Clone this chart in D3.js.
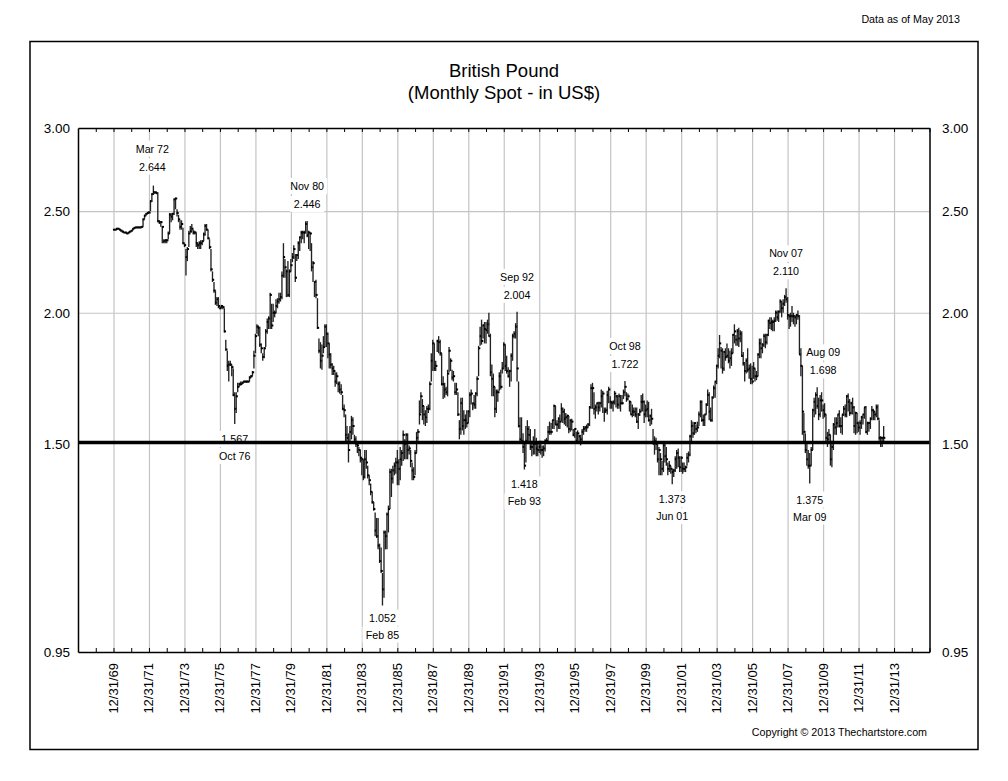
<!doctype html>
<head>
  <meta charset="utf-8" />
  <style>
    html, body { margin: 0; padding: 0; background: #fff; }
    svg { display: block; }
    text { font-family: "Liberation Sans", Arial, sans-serif; fill: #000; }
    .axis .domain { stroke: #000; stroke-width: 1.5; }
    .grid line { stroke: #c4c4c4; stroke-width: 1.2; }
    .grid .domain { display: none; }
    .title { font-size: 18.5px; text-anchor: middle; }
    .note { font-size: 10.7px; }
    .price-label { font-size: 13.5px; }
    .date-label { font-size: 13px; }
  </style>
</head>
<body>
<div class="chart-target"></div>
<script src="https://cdnjs.cloudflare.com/ajax/libs/d3/7.8.5/d3.min.js"></script>
<script>

  // monthly bars, first one is Dec 1969, one row per year
  var highs = [
    2.402,
    2.402,2.407,2.408,2.405,2.400,2.393,2.388,2.388,2.385,2.388,2.393,2.398,
    2.408,2.412,2.415,2.415,2.415,2.415,2.418,2.460,2.480,2.490,2.495,2.500,
    2.56,2.60,2.644,2.61,2.61,2.605,2.45,2.445,2.42,2.35,2.35,2.35,
    2.39,2.49,2.49,2.49,2.57,2.575,2.51,2.48,2.45,2.45,2.41,2.33,
    2.30,2.31,2.395,2.42,2.43,2.40,2.395,2.385,2.33,2.34,2.345,2.345,
    2.385,2.43,2.43,2.40,2.35,2.30,2.19,2.14,2.10,2.07,2.07,2.03,
    2.035,2.03,2.02,1.885,1.84,1.80,1.80,1.785,1.77,1.68,1.68,1.715,
    1.715,1.72,1.72,1.72,1.72,1.72,1.72,1.74,1.745,1.76,1.84,1.91,
    1.95,1.945,1.94,1.87,1.83,1.855,1.93,1.975,1.985,2.09,2.04,2.04,
    2.01,2.06,2.065,2.09,2.09,2.19,2.33,2.25,2.20,2.24,2.20,2.25,
    2.28,2.32,2.275,2.275,2.34,2.365,2.395,2.395,2.395,2.445,2.446,2.395,
    2.385,2.33,2.24,2.14,2.15,2.065,1.89,1.875,1.865,1.90,1.95,1.95,
    1.915,1.87,1.83,1.79,1.78,1.755,1.755,1.72,1.72,1.71,1.67,1.635,
    1.60,1.56,1.535,1.56,1.595,1.59,1.53,1.525,1.51,1.49,1.48,1.455,
    1.45,1.48,1.48,1.43,1.40,1.375,1.35,1.32,1.29,1.275,1.275,1.205,
    1.195,1.13,1.24,1.24,1.29,1.31,1.42,1.42,1.43,1.44,1.455,1.48,
    1.45,1.49,1.48,1.545,1.515,1.535,1.535,1.495,1.48,1.44,1.425,1.48,
    1.54,1.55,1.65,1.68,1.655,1.63,1.615,1.63,1.635,1.72,1.83,1.885,
    1.87,1.80,1.885,1.90,1.885,1.83,1.74,1.715,1.70,1.765,1.855,1.81,
    1.765,1.76,1.715,1.715,1.68,1.58,1.66,1.66,1.615,1.60,1.615,1.615,
    1.68,1.69,1.64,1.67,1.68,1.74,1.86,1.94,1.97,1.95,1.96,1.96,
    1.97,2.00,1.91,1.785,1.75,1.70,1.69,1.69,1.755,1.765,1.795,1.875,
    1.865,1.82,1.775,1.765,1.83,1.91,1.92,1.955,2.004,1.72,1.59,1.59,
    1.535,1.50,1.56,1.58,1.56,1.55,1.51,1.525,1.55,1.52,1.50,1.51,
    1.51,1.495,1.495,1.515,1.52,1.56,1.575,1.57,1.58,1.635,1.63,1.58,
    1.59,1.60,1.64,1.625,1.62,1.605,1.60,1.595,1.58,1.585,1.55,1.55,
    1.54,1.545,1.53,1.53,1.55,1.56,1.56,1.565,1.57,1.63,1.71,1.715,
    1.68,1.635,1.64,1.645,1.645,1.69,1.685,1.625,1.625,1.685,1.70,1.665,
    1.645,1.65,1.685,1.67,1.67,1.675,1.67,1.67,1.69,1.722,1.68,1.675,
    1.65,1.645,1.635,1.625,1.625,1.625,1.605,1.62,1.67,1.675,1.65,1.635,
    1.65,1.645,1.60,1.62,1.55,1.525,1.52,1.50,1.49,1.47,1.445,1.50,
    1.50,1.49,1.44,1.445,1.43,1.42,1.42,1.46,1.48,1.485,1.46,1.46,
    1.44,1.44,1.43,1.47,1.475,1.53,1.58,1.575,1.57,1.565,1.575,1.61,
    1.65,1.65,1.60,1.60,1.64,1.69,1.68,1.625,1.665,1.705,1.72,1.785,
    1.85,1.905,1.855,1.85,1.84,1.85,1.87,1.85,1.84,1.85,1.91,1.95,
    1.905,1.93,1.935,1.925,1.92,1.835,1.795,1.81,1.85,1.785,1.79,1.78,
    1.795,1.77,1.76,1.83,1.89,1.89,1.87,1.91,1.91,1.91,1.97,1.98,
    1.98,1.97,1.98,2.01,2.01,2.01,2.06,2.05,2.06,2.08,2.11,2.07,
    1.995,2.00,2.03,2.00,1.99,1.995,2.01,1.99,1.85,1.78,1.605,1.535,
    1.50,1.48,1.47,1.49,1.62,1.66,1.68,1.698,1.66,1.67,1.68,1.635,
    1.64,1.60,1.54,1.55,1.53,1.51,1.57,1.59,1.59,1.60,1.615,1.59,
    1.60,1.63,1.635,1.67,1.675,1.655,1.645,1.66,1.63,1.61,1.605,1.575,
    1.58,1.595,1.60,1.625,1.63,1.575,1.575,1.59,1.63,1.62,1.61,1.635,
    1.635,1.58,1.525,1.52,1.56
  ]

  var lows = [
    2.398,
    2.398,2.400,2.402,2.398,2.390,2.385,2.382,2.382,2.378,2.380,2.385,2.390,
    2.395,2.405,2.410,2.408,2.410,2.408,2.410,2.415,2.455,2.475,2.485,2.488,
    2.50,2.55,2.59,2.595,2.60,2.44,2.43,2.415,2.33,2.33,2.33,2.33,
    2.35,2.38,2.44,2.45,2.48,2.51,2.47,2.44,2.40,2.40,2.325,2.31,
    2.17,2.24,2.31,2.385,2.39,2.375,2.375,2.31,2.30,2.30,2.30,2.32,
    2.34,2.37,2.395,2.35,2.30,2.19,2.14,2.09,2.035,2.03,2.02,2.015,
    2.02,2.015,1.915,1.84,1.76,1.72,1.78,1.74,1.665,1.567,1.605,1.68,
    1.70,1.705,1.71,1.715,1.715,1.715,1.715,1.72,1.735,1.74,1.77,1.83,
    1.91,1.90,1.855,1.83,1.80,1.81,1.855,1.91,1.93,1.93,1.93,1.96,
    1.98,2.00,2.02,2.04,2.05,2.06,2.16,2.16,2.07,2.07,2.07,2.19,
    2.235,2.25,2.14,2.24,2.25,2.29,2.33,2.35,2.33,2.38,2.36,2.30,
    2.29,2.19,2.14,2.07,2.065,1.93,1.83,1.77,1.765,1.83,1.855,1.855,
    1.81,1.77,1.77,1.745,1.745,1.70,1.71,1.68,1.675,1.67,1.615,1.59,
    1.505,1.50,1.44,1.50,1.515,1.53,1.50,1.49,1.47,1.46,1.44,1.40,
    1.385,1.39,1.42,1.39,1.37,1.34,1.315,1.295,1.225,1.22,1.19,1.155,
    1.13,1.052,1.07,1.19,1.19,1.235,1.30,1.335,1.375,1.40,1.405,1.37,
    1.37,1.385,1.43,1.445,1.45,1.45,1.45,1.465,1.425,1.385,1.385,1.40,
    1.47,1.51,1.565,1.605,1.58,1.565,1.56,1.57,1.605,1.615,1.72,1.76,
    1.76,1.76,1.835,1.83,1.82,1.705,1.655,1.66,1.67,1.665,1.755,1.76,
    1.725,1.72,1.67,1.67,1.595,1.515,1.53,1.545,1.53,1.55,1.555,1.57,
    1.59,1.635,1.615,1.62,1.62,1.665,1.74,1.86,1.865,1.89,1.87,1.87,
    1.91,1.90,1.74,1.665,1.665,1.59,1.605,1.645,1.685,1.69,1.75,1.77,
    1.76,1.75,1.735,1.70,1.72,1.80,1.89,1.89,1.72,1.555,1.50,1.50,
    1.47,1.418,1.44,1.50,1.505,1.48,1.46,1.465,1.465,1.46,1.46,1.47,
    1.465,1.455,1.46,1.475,1.505,1.51,1.53,1.53,1.55,1.55,1.565,1.54,
    1.55,1.55,1.575,1.57,1.565,1.56,1.555,1.535,1.54,1.545,1.525,1.52,
    1.50,1.50,1.505,1.495,1.505,1.53,1.54,1.54,1.555,1.56,1.62,1.62,
    1.60,1.585,1.61,1.60,1.61,1.625,1.605,1.575,1.605,1.60,1.64,1.62,
    1.62,1.61,1.635,1.625,1.62,1.62,1.61,1.635,1.655,1.665,1.645,1.65,
    1.61,1.60,1.59,1.595,1.59,1.57,1.55,1.595,1.61,1.61,1.57,1.59,
    1.59,1.575,1.56,1.565,1.50,1.465,1.48,1.44,1.40,1.40,1.40,1.41,
    1.44,1.43,1.40,1.41,1.405,1.373,1.395,1.41,1.42,1.425,1.41,1.41,
    1.405,1.41,1.41,1.43,1.44,1.46,1.50,1.52,1.53,1.535,1.54,1.56,
    1.59,1.575,1.56,1.56,1.60,1.63,1.58,1.575,1.575,1.66,1.66,1.71,
    1.77,1.81,1.77,1.75,1.76,1.80,1.81,1.79,1.77,1.78,1.83,1.87,
    1.86,1.86,1.855,1.875,1.815,1.78,1.72,1.75,1.755,1.73,1.71,1.71,
    1.73,1.72,1.725,1.74,1.81,1.81,1.83,1.855,1.85,1.865,1.90,1.93,
    1.925,1.92,1.92,1.96,1.965,1.96,2.00,1.98,2.00,2.03,2.045,1.97,
    1.93,1.94,1.96,1.95,1.94,1.95,1.97,1.825,1.74,1.53,1.50,1.47,
    1.43,1.42,1.375,1.43,1.48,1.59,1.60,1.62,1.58,1.59,1.61,1.585,
    1.59,1.50,1.49,1.51,1.43,1.425,1.48,1.53,1.53,1.555,1.555,1.535,
    1.53,1.595,1.59,1.59,1.61,1.595,1.60,1.60,1.535,1.53,1.535,1.54,
    1.53,1.55,1.565,1.585,1.535,1.53,1.54,1.55,1.58,1.58,1.58,1.59,
    1.58,1.51,1.49,1.49,1.50
  ]

  var closes = [
    2.400,
    2.400,2.405,2.405,2.400,2.395,2.390,2.385,2.385,2.380,2.385,2.390,2.395,
    2.405,2.410,2.412,2.412,2.412,2.412,2.415,2.455,2.475,2.485,2.490,2.492,
    2.555,2.595,2.605,2.605,2.60,2.445,2.44,2.44,2.415,2.34,2.345,2.345,
    2.38,2.48,2.47,2.485,2.565,2.57,2.49,2.455,2.415,2.43,2.33,2.32,
    2.26,2.30,2.38,2.39,2.405,2.385,2.385,2.33,2.32,2.33,2.33,2.34,
    2.375,2.42,2.40,2.355,2.31,2.20,2.15,2.10,2.045,2.06,2.03,2.02,
    2.03,2.025,1.92,1.845,1.78,1.785,1.785,1.775,1.67,1.62,1.665,1.70,
    1.71,1.71,1.715,1.72,1.72,1.72,1.72,1.735,1.74,1.755,1.82,1.90,
    1.94,1.935,1.865,1.85,1.815,1.85,1.92,1.96,1.975,2.08,1.945,2.00,
    2.00,2.03,2.05,2.06,2.07,2.17,2.26,2.21,2.19,2.08,2.19,2.22,
    2.26,2.30,2.16,2.27,2.33,2.36,2.385,2.385,2.385,2.43,2.37,2.385,
    2.38,2.21,2.23,2.14,2.08,1.935,1.84,1.80,1.82,1.855,1.94,1.91,
    1.87,1.825,1.785,1.77,1.76,1.72,1.74,1.71,1.69,1.68,1.62,1.615,
    1.53,1.52,1.48,1.54,1.58,1.56,1.515,1.50,1.495,1.48,1.455,1.45,
    1.395,1.45,1.44,1.40,1.385,1.35,1.32,1.30,1.24,1.225,1.20,1.16,
    1.135,1.09,1.235,1.225,1.285,1.30,1.41,1.39,1.415,1.43,1.44,1.44,
    1.42,1.45,1.47,1.53,1.50,1.53,1.48,1.485,1.445,1.415,1.395,1.47,
    1.52,1.54,1.60,1.665,1.63,1.60,1.59,1.62,1.62,1.71,1.80,1.87,
    1.77,1.78,1.88,1.875,1.83,1.71,1.71,1.69,1.68,1.75,1.84,1.80,
    1.735,1.74,1.68,1.69,1.60,1.55,1.64,1.56,1.58,1.58,1.57,1.61,
    1.67,1.675,1.64,1.635,1.675,1.73,1.85,1.90,1.88,1.945,1.93,1.925,
    1.95,1.90,1.755,1.73,1.70,1.62,1.68,1.68,1.74,1.70,1.77,1.865,
    1.78,1.76,1.74,1.76,1.82,1.90,1.91,1.94,1.77,1.56,1.515,1.51,
    1.49,1.43,1.51,1.55,1.53,1.49,1.49,1.50,1.50,1.485,1.48,1.49,
    1.48,1.48,1.485,1.51,1.51,1.54,1.54,1.54,1.58,1.63,1.565,1.565,
    1.585,1.575,1.62,1.61,1.585,1.59,1.595,1.55,1.58,1.575,1.53,1.55,
    1.51,1.535,1.525,1.515,1.54,1.55,1.555,1.555,1.565,1.625,1.695,1.695,
    1.62,1.625,1.64,1.625,1.64,1.665,1.675,1.61,1.615,1.67,1.69,1.645,
    1.64,1.645,1.675,1.665,1.635,1.665,1.64,1.64,1.68,1.70,1.655,1.665,
    1.645,1.60,1.61,1.61,1.60,1.575,1.60,1.61,1.645,1.645,1.60,1.615,
    1.62,1.58,1.595,1.585,1.50,1.51,1.50,1.45,1.48,1.45,1.42,1.495,
    1.46,1.45,1.42,1.43,1.42,1.41,1.415,1.45,1.47,1.455,1.425,1.455,
    1.42,1.42,1.425,1.455,1.465,1.525,1.56,1.535,1.57,1.55,1.555,1.60,
    1.645,1.58,1.58,1.60,1.635,1.67,1.61,1.58,1.66,1.695,1.72,1.78,
    1.82,1.87,1.84,1.77,1.835,1.815,1.82,1.80,1.81,1.83,1.905,1.92,
    1.885,1.92,1.89,1.91,1.82,1.79,1.76,1.80,1.765,1.77,1.73,1.72,
    1.77,1.74,1.74,1.825,1.87,1.85,1.865,1.90,1.875,1.905,1.965,1.955,
    1.96,1.96,1.965,2.00,1.98,2.005,2.05,2.02,2.04,2.07,2.06,1.99,
    1.985,1.985,1.985,1.985,1.98,1.99,1.985,1.825,1.78,1.61,1.54,1.48,
    1.45,1.43,1.43,1.48,1.615,1.645,1.67,1.63,1.60,1.65,1.65,1.615,
    1.60,1.52,1.515,1.53,1.45,1.49,1.565,1.555,1.57,1.60,1.56,1.56,
    1.60,1.62,1.60,1.665,1.645,1.605,1.64,1.625,1.56,1.605,1.57,1.555,
    1.57,1.59,1.60,1.625,1.54,1.57,1.57,1.585,1.615,1.61,1.60,1.625,
    1.585,1.52,1.52,1.52,1.52
  ]

  var priceTicks = [3, 2.5, 2, 1.5, 0.95]
    , gridPrices = [2.5, 2]
    , heavyPrice = 1.5

  var peakLabels = [
    { date: [1972, 3], value: 2.644, label: 'Mar 72' }
  , { date: [1980, 11], value: 2.446, label: 'Nov 80' }
  , { date: [1992, 9], value: 2.004, label: 'Sep 92' }
  , { date: [1998, 10], value: 1.722, label: 'Oct 98' }
  , { date: [2007, 11], value: 2.110, label: 'Nov 07' }
  , { date: [2009, 8], value: 1.698, label: 'Aug 09' }
  ]

  var troughLabels = [
    { date: [1976, 10], value: 1.567, label: 'Oct 76' }
  , { date: [1985, 2], value: 1.052, label: 'Feb 85' }
  , { date: [1993, 2], value: 1.418, label: 'Feb 93' }
  , { date: [2001, 6], value: 1.373, label: 'Jun 01' }
  , { date: [2009, 3], value: 1.375, label: 'Mar 09' }
  ]

  // hand placed labels that sit off the usual spot
  var labelNudge = {
    'Mar 72': [-1, -2]
  , 'Aug 09': [6, 0]
  , 'Feb 85': [0, -3]
  , 'Mar 09': [0, 1]
  }

  var width = 1008
    , height = 781
    , plot = { left: 78, right: 929.5, top: 128, bottom: 652 }

  var svg = d3.select('.chart-target')
    .append('svg')
      .attr('width', width)
      .attr('height', height)

  var x = d3.scaleTime()
        .domain([yearEnd(1967), yearEnd(2015)])
        .range([plot.left, plot.right])
    , y = d3.scaleLog()
        .domain([0.95, 3])
        .range([plot.bottom, plot.top])

  var everyYear = d3.range(1968, 2016).map(yearEnd)
    , labelYears = d3.range(1969, 2014, 2).map(yearEnd)
    , fmtDate = d3.timeFormat('%m/%d/%y')

  var bars = closes.map(function(c, i) {
    return { date: monthEnd(1969, 12 + i), high: highs[i], low: lows[i], close: c }
  })

  // outer frame
  svg.append('rect')
      .attr('x', 30)
      .attr('y', 41.5)
      .attr('width', 948)
      .attr('height', 708)
      .attr('fill', 'none')
      .attr('stroke', '#000')
      .attr('stroke-width', 1.5)

  svg.append('text')
      .attr('class', 'note')
      .attr('x', 960)
      .attr('y', 23)
      .attr('text-anchor', 'end')
      .text('Data as of May 2013')

  svg.append('text')
      .attr('class', 'title')
      .attr('x', 504)
      .attr('y', 77)
      .text('British Pound')

  svg.append('text')
      .attr('class', 'title')
      .attr('x', 504)
      .attr('y', 99)
      .text('(Monthly Spot - in US$)')

  // grid
  svg.append('g')
      .attr('class', 'grid')
      .attr('transform', 'translate(0,' + plot.bottom + ')')
      .call(d3.axisBottom(x).tickValues(labelYears).tickSize(plot.top - plot.bottom).tickFormat(''))

  svg.append('g')
      .attr('class', 'grid')
      .attr('transform', 'translate(' + plot.left + ',0)')
      .call(d3.axisLeft(y).tickValues(gridPrices).tickSize(plot.left - plot.right).tickFormat(''))

  // bars
  var bar = svg.append('g').selectAll('g')
      .data(bars)
    .enter().append('g')

  bar.append('line')
      .attr('x1', function(d) { return x(d.date) })
      .attr('x2', function(d) { return x(d.date) })
      .attr('y1', function(d) { return y(d.high) })
      .attr('y2', function(d) { return y(d.low) })
      .attr('stroke', '#222')
      .attr('stroke-width', 1.35)

  bar.append('line')
      .attr('x1', function(d) { return x(d.date) - 0.4 })
      .attr('x2', function(d) { return x(d.date) + 1.7 })
      .attr('y1', function(d) { return y(d.close) })
      .attr('y2', function(d) { return y(d.close) })
      .attr('stroke', '#000')
      .attr('stroke-width', 2)

  // value + date labels, white box knocks out the grid behind them
  peakLabels.forEach(function(d) {
    var n = labelNudge[d.label] || [0, 0]
      , cx = x(monthEnd(d.date[0], d.date[1])) + n[0]
      , cy = y(d.value) + n[1]
    addLabel(cx, cy - 35, d.label)
    addLabel(cx, cy - 17, d.value.toFixed(3))
  })

  troughLabels.forEach(function(d) {
    var n = labelNudge[d.label] || [0, 0]
      , cx = x(monthEnd(d.date[0], d.date[1])) + n[0]
      , cy = y(d.value) + n[1]
    addLabel(cx, cy + 15, d.value.toFixed(3))
    addLabel(cx, cy + 32, d.label)
  })

  // heavy line goes over the labels, it clips the 1.567 in the original
  svg.append('line')
      .attr('x1', plot.left)
      .attr('x2', plot.right)
      .attr('y1', y(heavyPrice) - 1.3)
      .attr('y2', y(heavyPrice) - 1.3)
      .attr('stroke', '#000')
      .attr('stroke-width', 3.6)

  // frame of the plot, yearly ticks pointing in
  svg.append('g')
      .attr('class', 'axis')
      .attr('transform', 'translate(0,' + plot.bottom + ')')
      .call(d3.axisBottom(x).tickValues(everyYear).tickSize(-4).tickSizeOuter(0).tickFormat(''))

  svg.append('g')
      .attr('class', 'axis')
      .attr('transform', 'translate(0,' + plot.top + ')')
      .call(d3.axisTop(x).tickValues(everyYear).tickSize(-4).tickSizeOuter(0).tickFormat(''))

  svg.append('g')
      .attr('class', 'axis')
      .attr('transform', 'translate(' + plot.left + ',0)')
      .call(d3.axisLeft(y).tickValues([]).tickSizeOuter(0))

  svg.append('g')
      .attr('class', 'axis')
      .attr('transform', 'translate(' + plot.right + ',0)')
      .call(d3.axisRight(y).tickValues([]).tickSizeOuter(0))

  // price labels both sides
  priceTicks.forEach(function(p) {
    svg.append('text')
        .attr('class', 'price-label')
        .attr('x', 70)
        .attr('y', y(p) + 5)
        .attr('text-anchor', 'end')
        .text(p.toFixed(2))

    svg.append('text')
        .attr('class', 'price-label')
        .attr('x', 942)
        .attr('y', y(p) + 5)
        .text(p.toFixed(2))
  })

  labelYears.forEach(function(d) {
    svg.append('text')
        .attr('class', 'date-label')
        .attr('transform', 'translate(' + (x(d) + 4.5) + ',663) rotate(-90)')
        .attr('text-anchor', 'end')
        .text(fmtDate(d))
  })

  svg.append('text')
      .attr('class', 'note')
      .attr('x', 927)
      .attr('y', 736)
      .attr('text-anchor', 'end')
      .text('Copyright © 2013 Thechartstore.com')

  function addLabel(cx, cy, text) {
    var w = text.length * 6 + 4
    svg.append('rect')
        .attr('x', cx - w / 2)
        .attr('y', cy - 8)
        .attr('width', w)
        .attr('height', 16)
        .attr('fill', '#fff')

    svg.append('text')
        .attr('class', 'note')
        .attr('x', cx)
        .attr('y', cy + 4)
        .attr('text-anchor', 'middle')
        .text(text)
  }

  function yearEnd(year) {
    return new Date(year, 11, 31)
  }

  function monthEnd(year, month) {
    return new Date(year, month, 0)
  }

</script>
</body>
